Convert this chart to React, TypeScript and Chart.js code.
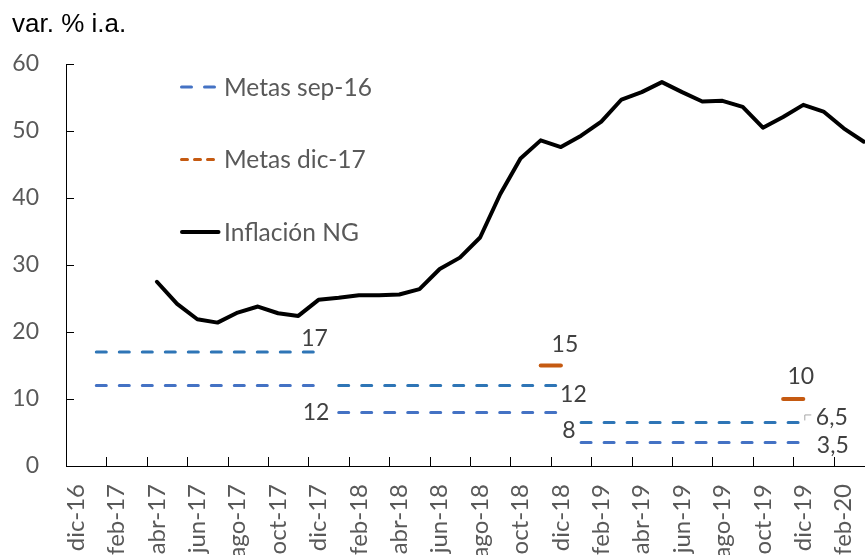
import React, { useEffect, useRef } from "react";
import { Chart, registerables } from "chart.js";

Chart.register(...registerables);

// ---- data ----
const months = [
  "dic-16",
  "ene-17", "feb-17", "mar-17", "abr-17", "may-17", "jun-17", "jul-17", "ago-17", "sep-17", "oct-17", "nov-17", "dic-17",
  "ene-18", "feb-18", "mar-18", "abr-18", "may-18", "jun-18", "jul-18", "ago-18", "sep-18", "oct-18", "nov-18", "dic-18",
  "ene-19", "feb-19", "mar-19", "abr-19", "may-19", "jun-19", "jul-19", "ago-19", "sep-19", "oct-19", "nov-19", "dic-19",
  "ene-20", "feb-20", "mar-20",
];

const inflationNG: (number | null)[] = [
  null,
  null, null, null, 27.5, 24.2, 21.9, 21.4, 22.9, 23.8, 22.8, 22.4, 24.8,
  25.1, 25.5, 25.5, 25.6, 26.4, 29.4, 31.1, 34.1, 40.6, 45.9, 48.6, 47.6,
  49.3, 51.4, 54.7, 55.8, 57.3, 55.8, 54.4, 54.5, 53.6, 50.5, 52.1, 53.9,
  52.9, 50.4, 48.4,
];

// Metas sep-16 (por año)
const targetYears = ["17", "18", "19"];
const targetUpper = [17, 12, 6.5];
const targetLower = [12, 8, 3.5];

// Metas dic-17
const dic17Years = ["18", "19"];
const dic17Targets = [15, 10];
const dic17Months = ["nov", "dic"];

const yTicks = [0, 10, 20, 30, 40, 50, 60];
const titleText = "var. % i.a.";
const legendLabels = ["Metas sep-16", "Metas dic-17", "Inflación NG"];

// ---- styles ----
const FONT = "Lato";
const TITLE_FONT = "'Liberation Sans', Arial, sans-serif";
const BLUE_UP = "#2E75B6";
const BLUE_LO = "#4472C4";
const ORANGE = "#C55A11";
const GRAY = "#595959";
const LABEL = "#404040";

// label offsets (baseline position relative to last point), per dataset kind
const upperOffsets = [[-4, -6], [12.5, 16], [28.5, 2.5]];
const lowerOffsets = [[-2.5, 34], [8, 26], [29.5, 10]];
const dic17Offsets = [[4, -14], [-2.5, -15]];

function fmt(v: number) {
  return String(v).replace(".", ",");
}

function buildDatasets() {
  const ds: any[] = [];
  ds.push({
    label: legendLabels[2],
    data: inflationNG,
    borderColor: "#000",
    borderWidth: 4,
    pointRadius: 0,
    borderCapStyle: "round",
    borderJoinStyle: "round",
    spanGaps: false,
    order: 0,
  });
  targetYears.forEach((yr, k) => {
    ds.push({
      label: legendLabels[0],
      data: months.map((m) => (m.endsWith("-" + yr) ? targetUpper[k] : null)),
      borderColor: BLUE_UP,
      borderWidth: 3,
      borderDash: [10, 13],
      borderCapStyle: "round",
      pointRadius: 0,
      spanGaps: false,
      lbl: { dx: upperOffsets[k][0], dy: upperOffsets[k][1], leader: k === 2 },
      order: 2,
    });
    ds.push({
      label: legendLabels[0],
      data: months.map((m) => (m.endsWith("-" + yr) ? targetLower[k] : null)),
      borderColor: BLUE_LO,
      borderWidth: 3,
      borderDash: [10, 13],
      borderCapStyle: "round",
      pointRadius: 0,
      spanGaps: false,
      lbl: { dx: lowerOffsets[k][0], dy: lowerOffsets[k][1] },
      order: 2,
    });
  });
  dic17Years.forEach((yr, k) => {
    ds.push({
      label: legendLabels[1],
      data: months.map((m) =>
        dic17Months.some((mm) => m === mm + "-" + yr) ? dic17Targets[k] : null
      ),
      borderColor: ORANGE,
      borderWidth: 4,
      borderCapStyle: "round",
      pointRadius: 0,
      spanGaps: false,
      lbl: { dx: dic17Offsets[k][0], dy: dic17Offsets[k][1] },
      order: 1,
    });
  });
  return ds;
}

const overlayPlugin = {
  id: "overlay",
  afterDraw(chart: any) {
    const ctx: CanvasRenderingContext2D = chart.ctx;
    const xs = chart.scales.x;
    const ys = chart.scales.y;
    const area = chart.chartArea;
    ctx.save();

    // inward tick marks
    ctx.strokeStyle = "#000";
    ctx.lineWidth = 1;
    ctx.setLineDash([]);
    yTicks.forEach((v) => {
      if (v === 0) return;
      const y = Math.round(ys.getPixelForValue(v)) + 0.5;
      ctx.beginPath();
      ctx.moveTo(area.left, y);
      ctx.lineTo(area.left + 8, y);
      ctx.stroke();
    });
    for (let i = 2; i < months.length; i += 2) {
      const x = Math.round((xs.getPixelForValue(i) + xs.getPixelForValue(i - 1)) / 2) + 0.5;
      ctx.beginPath();
      ctx.moveTo(x, area.bottom);
      ctx.lineTo(x, area.bottom - 9);
      ctx.stroke();
    }

    // title
    ctx.fillStyle = "#000";
    ctx.font = `26px ${TITLE_FONT}`;
    ctx.textAlign = "left";
    ctx.textBaseline = "alphabetic";
    ctx.fillText(titleText, 12, 31.5);

    // legend
    const items = [
      { text: legendLabels[0], color: BLUE_LO, dash: [10, 13], w: 3, x0: 181.5, x1: 215.5, y: 87 },
      { text: legendLabels[1], color: ORANGE, dash: [6, 7], w: 3, x0: 181.5, x1: 215.5, y: 159.5 },
      { text: legendLabels[2], color: "#000", dash: [], w: 4, x0: 182, x1: 218.5, y: 232 },
    ];
    items.forEach((it) => {
      ctx.strokeStyle = it.color;
      ctx.lineWidth = it.w;
      ctx.lineCap = "round";
      ctx.setLineDash(it.dash);
      ctx.beginPath();
      ctx.moveTo(it.x0, it.y);
      ctx.lineTo(it.x1, it.y);
      ctx.stroke();
      ctx.setLineDash([]);
      ctx.fillStyle = GRAY;
      ctx.font = `24.5px ${FONT}`;
      ctx.textAlign = "left";
      ctx.textBaseline = "alphabetic";
      ctx.fillText(it.text, 224, it.y + 8.5);
    });

    // data labels
    ctx.font = `23px ${FONT}`;
    ctx.fillStyle = LABEL;
    ctx.textAlign = "center";
    ctx.textBaseline = "alphabetic";
    chart.data.datasets.forEach((d: any, di: number) => {
      if (!d.lbl) return;
      let idx = -1;
      d.data.forEach((v: any, i: number) => {
        if (v !== null && v !== undefined) idx = i;
      });
      if (idx < 0) return;
      const pt = chart.getDatasetMeta(di).data[idx];
      const cx = pt.x + d.lbl.dx;
      const by = pt.y + d.lbl.dy;
      ctx.fillStyle = LABEL;
      ctx.fillText(fmt(d.data[idx]), cx, by);
      if (d.lbl.leader) {
        ctx.strokeStyle = "#A6A6A6";
        ctx.lineWidth = 1;
        ctx.lineCap = "butt";
        ctx.beginPath();
        ctx.moveTo(pt.x + 1.5, pt.y - 2);
        ctx.lineTo(pt.x + 1.5, pt.y - 7.5);
        ctx.lineTo(pt.x + 8, pt.y - 7.5);
        ctx.stroke();
      }
    });

    ctx.restore();
  },
};

const CW = 874;
const CH = 580;
const AXIS_BOTTOM = 466;

export default function App() {
  const ref = useRef<HTMLCanvasElement | null>(null);

  useEffect(() => {
    let chart: Chart | null = null;
    let cancelled = false;
    const make = () => {
      if (cancelled || !ref.current) return;
      Chart.defaults.font.family = FONT;
      chart = new Chart(ref.current, {
        type: "line",
        data: { labels: months, datasets: buildDatasets() },
        plugins: [overlayPlugin],
        options: {
          animation: false,
          responsive: false,
          devicePixelRatio: 1,
          layout: { padding: { top: 64, left: 0, right: 0, bottom: 0 } },
          plugins: {
            legend: { display: false },
            tooltip: { enabled: false },
            title: { display: false },
          },
          scales: {
            x: {
              type: "category",
              offset: true,
              grid: { display: false, drawTicks: false },
              border: { display: true, color: "#000", width: 1 },
              ticks: {
                autoSkip: false,
                minRotation: 90,
                maxRotation: 90,
                padding: 18,
                color: GRAY,
                font: { family: FONT, size: 24 },
                callback: (_v: any, i: number) => (i % 2 === 0 ? months[i] : null),
              },
              afterFit: (s: any) => {
                s.height = CH - AXIS_BOTTOM;
                s.paddingLeft = 0;
                s.paddingRight = 0;
              },
            },
            y: {
              min: 0,
              max: 60,
              grid: { display: false, drawTicks: false },
              border: { display: true, color: "#000", width: 1 },
              ticks: {
                stepSize: 10,
                padding: 27,
                color: GRAY,
                font: { family: FONT, size: 23 },
              },
              afterFit: (s: any) => {
                s.width = 66;
                s.paddingTop = 0;
                s.paddingBottom = 0;
              },
            },
          },
        },
      } as any);
    };
    const fonts: any = (document as any).fonts;
    if (fonts && fonts.load) {
      Promise.all([
        fonts.load(`22px ${FONT}`),
        fonts.load(`26px 'Liberation Sans'`),
      ])
        .catch(() => null)
        .then(make);
    } else {
      make();
    }
    return () => {
      cancelled = true;
      if (chart) chart.destroy();
    };
  }, []);

  return (
    <div
      style={{
        position: "fixed",
        left: 0,
        top: 0,
        width: 865,
        height: 555,
        overflow: "hidden",
        background: "#fff",
      }}
    >
      <canvas
        ref={ref}
        width={CW}
        height={CH}
        style={{ display: "block", width: CW, height: CH }}
      />
    </div>
  );
}
